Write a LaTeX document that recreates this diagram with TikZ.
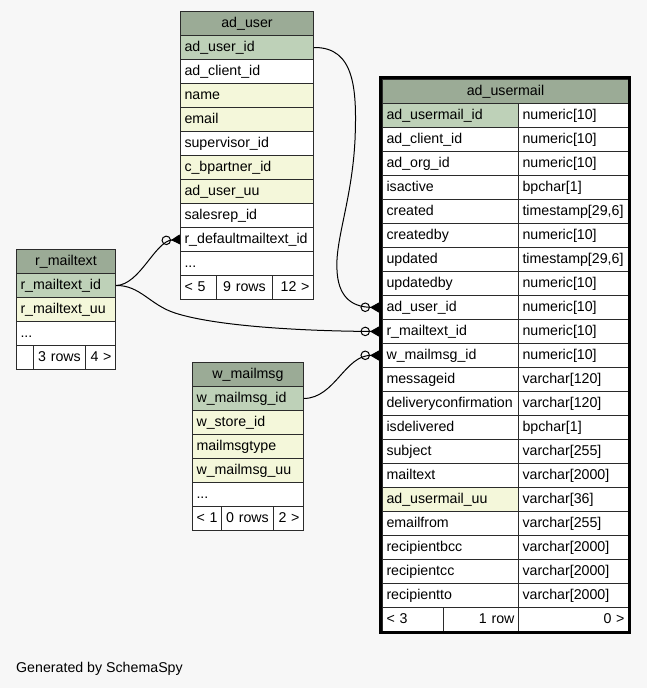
\documentclass[tikz,border=0pt]{standalone}
\usepackage{fontspec}
\setmainfont{Liberation Sans}
\usetikzlibrary{arrows.meta}
\definecolor{bg}{HTML}{F7F7F7}
\definecolor{hd}{HTML}{9BAB96}
\definecolor{pk}{HTML}{BED1B8}
\definecolor{ix}{HTML}{F4F7DA}
\definecolor{lc}{HTML}{2B2B2B}
\newcommand\fs{\fontsize{14.2}{17}\selectfont}
% cell: name, x, y, fill, text width, align, text
\newcommand\tcell[7]{\node[cell,fill=#4,text width=#5pt,align=#6] (#1) at (#2,#3) {#7};}
% two-column row of ad_usermail
\newcommand\umrow[5]{\node[cell,fill=#3,text width=128pt,align=left] (um-#1) at (382,#2) {#4};
  \node[cell,fill=white,text width=102pt,align=left] (um-#1-t) at (518,#2) {#5};}
\begin{document}
\begin{tikzpicture}[x=1pt,y=-1pt,
  cell/.style={draw=lc,line width=1pt,anchor=north west,inner xsep=4pt,inner ysep=0pt,
    minimum height=24pt,text height=10.2pt,text depth=3pt,font=\fs},
  conn/.style={draw=black,line width=1pt,
    -{Circle[open,length=9.5pt,width=9.5pt] Triangle[reversed,length=9pt,width=10pt]}}]
\fill[bg] (0,0) rectangle (647,688);
\useasboundingbox (0,0) rectangle (647,688);

% ---- ad_user
\tcell{au}{180}{11}{hd}{125}{center}{ad\_user}
\tcell{au-id}{180}{35}{pk}{125}{left}{ad\_user\_id}
\tcell{au-client}{180}{59}{white}{125}{left}{ad\_client\_id}
\tcell{au-name}{180}{83}{ix}{125}{left}{name}
\tcell{au-email}{180}{107}{ix}{125}{left}{email}
\tcell{au-sup}{180}{131}{white}{125}{left}{supervisor\_id}
\tcell{au-bp}{180}{155}{ix}{125}{left}{c\_bpartner\_id}
\tcell{au-uu}{180}{179}{ix}{125}{left}{ad\_user\_uu}
\tcell{au-sales}{180}{203}{white}{125}{left}{salesrep\_id}
\tcell{au-rdef}{180}{227}{white}{125}{left}{r\_defaultmailtext\_id}
\tcell{au-more}{180}{251}{white}{125}{left}{...}
\tcell{au-f1}{180}{275}{white}{28}{left}{< 5}
\tcell{au-f2}{216}{275}{white}{48}{center}{9 rows}
\tcell{au-f3}{272}{275}{white}{33}{right}{12 >}

% ---- r_mailtext
\tcell{rm}{16}{249}{hd}{91}{center}{r\_mailtext}
\tcell{rm-id}{16}{273}{pk}{91}{left}{r\_mailtext\_id}
\tcell{rm-uu}{16}{297}{ix}{91}{left}{r\_mailtext\_uu}
\tcell{rm-more}{16}{321}{white}{91}{left}{...}
\tcell{rm-f1}{16}{345}{white}{9}{left}{}
\tcell{rm-f2}{33}{345}{white}{44}{center}{3 rows}
\tcell{rm-f3}{85}{345}{white}{22}{right}{4 >}

% ---- w_mailmsg
\tcell{wm}{192}{362}{hd}{103}{center}{w\_mailmsg}
\tcell{wm-id}{192}{386}{pk}{103}{left}{w\_mailmsg\_id}
\tcell{wm-store}{192}{410}{ix}{103}{left}{w\_store\_id}
\tcell{wm-type}{192}{434}{ix}{103}{left}{mailmsgtype}
\tcell{wm-uu}{192}{458}{ix}{103}{left}{w\_mailmsg\_uu}
\tcell{wm-more}{192}{482}{white}{103}{left}{...}
\tcell{wm-f1}{192}{506}{white}{21}{left}{< 1}
\tcell{wm-f2}{221}{506}{white}{44}{center}{0 rows}
\tcell{wm-f3}{273}{506}{white}{22}{right}{2 >}

% ---- ad_usermail
\tcell{um}{382}{79}{hd}{238}{center}{ad\_usermail}
\umrow{id}{103}{pk}{ad\_usermail\_id}{numeric[10]}
\umrow{client}{127}{white}{ad\_client\_id}{numeric[10]}
\umrow{org}{151}{white}{ad\_org\_id}{numeric[10]}
\umrow{active}{175}{white}{isactive}{bpchar[1]}
\umrow{created}{199}{white}{created}{timestamp[29,6]}
\umrow{createdby}{223}{white}{createdby}{numeric[10]}
\umrow{updated}{247}{white}{updated}{timestamp[29,6]}
\umrow{updatedby}{271}{white}{updatedby}{numeric[10]}
\umrow{aduser}{295}{white}{ad\_user\_id}{numeric[10]}
\umrow{rmail}{319}{white}{r\_mailtext\_id}{numeric[10]}
\umrow{wmail}{343}{white}{w\_mailmsg\_id}{numeric[10]}
\umrow{msgid}{367}{white}{messageid}{varchar[120]}
\umrow{delconf}{391}{white}{deliveryconfirmation}{varchar[120]}
\umrow{isdel}{415}{white}{isdelivered}{bpchar[1]}
\umrow{subject}{439}{white}{subject}{varchar[255]}
\umrow{mailtext}{463}{white}{mailtext}{varchar[2000]}
\umrow{uu}{487}{ix}{ad\_usermail\_uu}{varchar[36]}
\umrow{from}{511}{white}{emailfrom}{varchar[255]}
\umrow{bcc}{535}{white}{recipientbcc}{varchar[2000]}
\umrow{cc}{559}{white}{recipientcc}{varchar[2000]}
\umrow{to}{583}{white}{recipientto}{varchar[2000]}
\tcell{um-f1}{382}{607}{white}{53}{left}{< 3}
\tcell{um-f2}{443}{607}{white}{67}{right}{1 row}
\tcell{um-f3}{518}{607}{white}{102}{right}{0 >}
\draw[black,line width=3pt] (380.5,77.5) rectangle (629.5,632.5);

% ---- connectors
\draw[conn] (au-id.east) .. controls (355,47) and (357,90) .. (355,140)
  .. controls (352,200) and (335,240) .. (337,270)
  .. controls (338,295) and (350,307) .. ([xshift=-3pt]um-aduser.west);
\draw[conn] (rm-id.east) .. controls (140,285) and (155,241) .. (au-rdef.west);
\draw[conn] (rm-id.east) .. controls (140,285) and (150,305) .. (175,313)
  .. controls (215,326) and (300,331) .. ([xshift=-3pt]um-rmail.west);
\draw[conn] (wm-id.east) .. controls (335,398) and (345,355) .. ([xshift=-3pt]um-wmail.west);

% ---- footer text
\node[font=\fs,anchor=base west,inner sep=0pt] (gen) at (16,672.5) {Generated by SchemaSpy};
\end{tikzpicture}
\end{document}
